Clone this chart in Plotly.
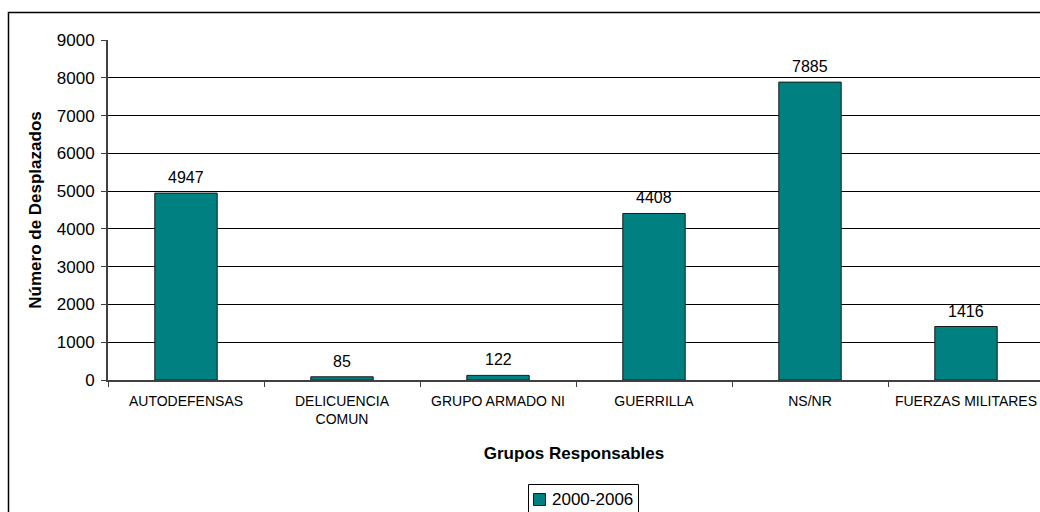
import plotly.graph_objects as go

# Desplazados por grupo responsable, 2000-2006
categorias = ["AUTODEFENSAS", "DELICUENCIA<br>COMUN", "GRUPO ARMADO NI",
              "GUERRILLA", "NS/NR", "FUERZAS MILITARES"]
desplazados = [4947, 85, 122, 4408, 7885, 1416]
serie = "2000-2006"
y_ticks = [0, 1000, 2000, 3000, 4000, 5000, 6000, 7000, 8000, 9000]

FONT = "Liberation Sans, Arial, sans-serif"
TEAL = "#008080"

W, H = 1040, 512
L, T, B = 108, 40, 132
plot_w = W - L
plot_h = H - T - B
cat_w = 156.0  # category band width in px

fig = go.Figure()
fig.add_trace(go.Bar(
    x=categorias,
    y=desplazados,
    name=serie,
    marker=dict(color=TEAL, line=dict(color="#1a1a1a", width=1)),
    width=0.4,
    showlegend=False,
))

# value labels above each bar
for c, v in zip(categorias, desplazados):
    fig.add_annotation(
        x=c, y=v, text=str(v), showarrow=False,
        yanchor="bottom", yshift=5,
        font=dict(family=FONT, size=16, color="black"),
    )

def px_x(p):
    return (p - L) / plot_w

def px_y(p):
    return (T + plot_h - p) / plot_h

# boxed legend below the axis title
fig.add_annotation(
    xref="paper", yref="paper",
    x=px_x(550), y=px_y(499.5), xanchor="left", yanchor="middle",
    text=serie, showarrow=False,
    font=dict(family=FONT, size=17, color="black"),
)

shapes = [
    # chart frame (left and top edges fall inside the page)
    dict(type="rect", xref="paper", yref="paper",
         x0=px_x(8.5), x1=px_x(1100),
         y0=px_y(600), y1=px_y(12.5),
         line=dict(color="black", width=1.5), fillcolor="rgba(0,0,0,0)",
         layer="below"),
    # legend box
    dict(type="rect", xref="paper", yref="paper",
         x0=px_x(528.5), x1=px_x(638.5),
         y0=px_y(530), y1=px_y(484.5),
         line=dict(color="black", width=1), fillcolor="white"),
    # legend swatch
    dict(type="rect", xref="paper", yref="paper",
         x0=px_x(533.5), x1=px_x(545.5),
         y0=px_y(505.5), y1=px_y(493.5),
         line=dict(color="#1a1a1a", width=1), fillcolor=TEAL),
]

fig.update_layout(
    width=W, height=H,
    margin=dict(l=L, r=0, t=T, b=B, pad=0),
    paper_bgcolor="white",
    plot_bgcolor="white",
    font=dict(family=FONT, size=14, color="black"),
    bargap=0.6,
    showlegend=False,
    xaxis=dict(
        range=[-0.5, -0.5 + plot_w / cat_w],
        showline=True, linecolor="#404040", linewidth=2,
        ticks="outside", ticklen=5, tickcolor="#404040", tickwidth=1,
        tickson="boundaries",
        ticklabelstandoff=7,
        showgrid=False,
        tickfont=dict(family=FONT, size=14, color="black"),
        title=dict(text="<b>Grupos Responsables</b>",
                   font=dict(family=FONT, size=17, color="black"),
                   standoff=21),
    ),
    yaxis=dict(
        range=[0, 9000],
        tickvals=y_ticks,
        showline=True, linecolor="#404040", linewidth=2,
        ticks="outside", ticklen=5, tickcolor="#404040", tickwidth=1,
        ticklabelstandoff=3,
        showgrid=True, gridcolor="black", gridwidth=1,
        zeroline=False,
        tickfont=dict(family=FONT, size=17, color="black"),
        title=dict(text="<b>Número de Desplazados</b>",
                   font=dict(family=FONT, size=17, color="black"),
                   standoff=11),
    ),
    shapes=shapes,
)

fig.write_html("out.html")
